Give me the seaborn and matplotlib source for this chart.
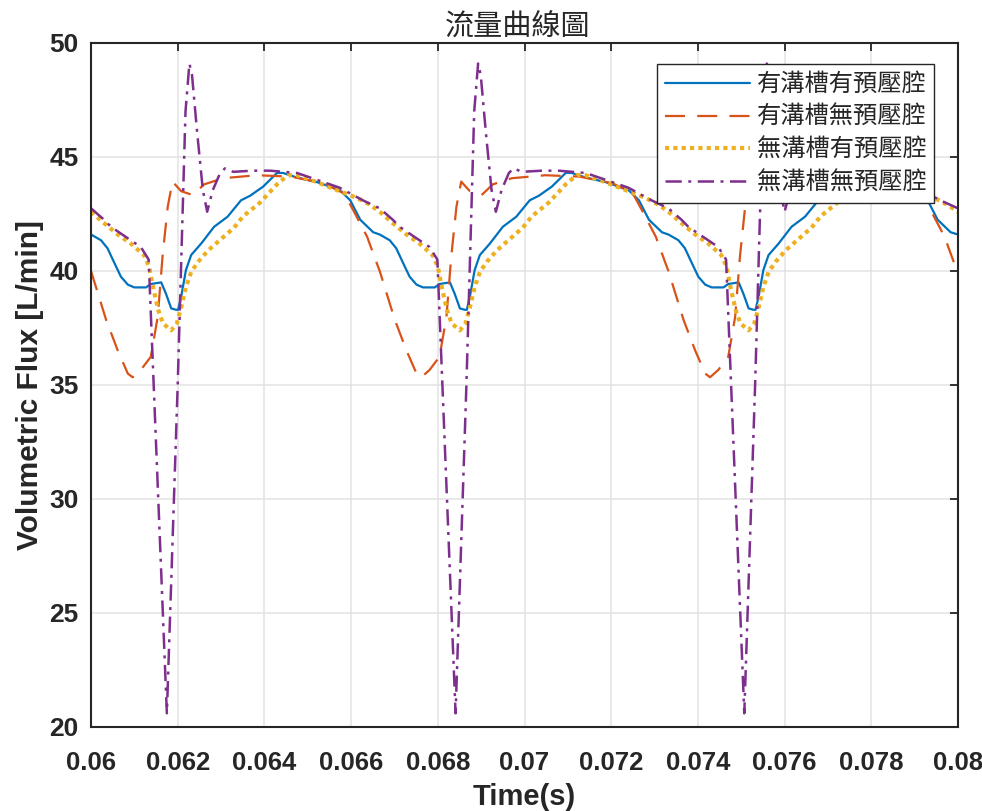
import numpy as np
import pandas as pd
import matplotlib
matplotlib.use("Agg")
import matplotlib.pyplot as plt
import seaborn as sns

# ---------------- data ----------------
series_names = ['有溝槽有預壓腔', '有溝槽無預壓腔', '無溝槽有預壓腔', '無溝槽無預壓腔']

t_blue = [0.06000, 0.06023, 0.06038, 0.06054, 0.06069, 0.06085, 0.06100, 0.06127, 0.06138, 0.06162,
          0.06173, 0.06185, 0.06196, 0.06201, 0.06208, 0.06219, 0.06231, 0.06254, 0.06284, 0.06315,
          0.06346, 0.06367, 0.06397, 0.06429, 0.06443, 0.06475, 0.06521, 0.06574, 0.06598, 0.06621, 0.06651,
          0.06666, 0.06689, 0.06704, 0.06720, 0.06735, 0.06751, 0.06766, 0.06793, 0.06804, 0.06828,
          0.06839, 0.06851, 0.06862, 0.06867, 0.06874, 0.06885, 0.06897, 0.06920, 0.06950, 0.06981,
          0.07012, 0.07033, 0.07063, 0.07095, 0.07109, 0.07141, 0.07187, 0.07240, 0.07264, 0.07287, 0.07317,
          0.07332, 0.07355, 0.07370, 0.07386, 0.07401, 0.07417, 0.07432, 0.07459, 0.07470, 0.07494,
          0.07505, 0.07517, 0.07528, 0.07533, 0.07540, 0.07551, 0.07563, 0.07586, 0.07616, 0.07647,
          0.07678, 0.07699, 0.07729, 0.07761, 0.07775, 0.07807, 0.07853, 0.07906, 0.07930, 0.07953, 0.07983,
          0.08000]
v_blue = [41.6, 41.35, 41.0, 40.35, 39.75, 39.4, 39.28, 39.28, 39.43, 39.5,
          39.0, 38.36, 38.3, 38.3, 38.87, 40.04, 40.7, 41.2, 41.94, 42.38,
          43.1, 43.3, 43.7, 44.3, 44.3, 44.1, 43.9, 43.55, 43.1, 42.25, 41.7,
          41.6, 41.35, 41.0, 40.35, 39.75, 39.4, 39.28, 39.28, 39.43, 39.5,
          39.0, 38.36, 38.3, 38.3, 38.87, 40.04, 40.7, 41.2, 41.94, 42.38,
          43.1, 43.3, 43.7, 44.3, 44.3, 44.1, 43.9, 43.55, 43.1, 42.25, 41.7,
          41.6, 41.35, 41.0, 40.35, 39.75, 39.4, 39.28, 39.28, 39.43, 39.5,
          39.0, 38.36, 38.3, 38.3, 38.87, 40.04, 40.7, 41.2, 41.94, 42.38,
          43.1, 43.3, 43.7, 44.3, 44.3, 44.1, 43.9, 43.55, 43.1, 42.25, 41.7,
          41.6]

t_orange = [0.06000, 0.06035, 0.06062, 0.06085, 0.06096, 0.06115, 0.06138, 0.06154, 0.06165, 0.06177,
            0.06188, 0.06208, 0.06235, 0.06261, 0.06305, 0.06382, 0.06461, 0.06537, 0.06584, 0.06604,
            0.06637, 0.06661,
            0.06666, 0.06701, 0.06728, 0.06751, 0.06762, 0.06781, 0.06804, 0.06820, 0.06831, 0.06843,
            0.06854, 0.06874, 0.06901, 0.06927, 0.06971, 0.07048, 0.07127, 0.07203, 0.07250, 0.07270,
            0.07303, 0.07327,
            0.07332, 0.07367, 0.07394, 0.07417, 0.07428, 0.07447, 0.07470, 0.07486, 0.07497, 0.07509,
            0.07520, 0.07540, 0.07567, 0.07593, 0.07637, 0.07714, 0.07793, 0.07869, 0.07916, 0.07936,
            0.07969, 0.07993,
            0.08000]
v_orange = [40.0, 37.85, 36.5, 35.5, 35.34, 35.66, 36.24, 38.0, 40.63, 42.82,
            43.92, 43.5, 43.33, 43.8, 44.07, 44.2, 44.14, 43.85, 43.4, 42.7,
            41.5, 40.25,
            40.0, 37.85, 36.5, 35.5, 35.34, 35.66, 36.24, 38.0, 40.63, 42.82,
            43.92, 43.5, 43.33, 43.8, 44.07, 44.2, 44.14, 43.85, 43.4, 42.7,
            41.5, 40.25,
            40.0, 37.85, 36.5, 35.5, 35.34, 35.66, 36.24, 38.0, 40.63, 42.82,
            43.92, 43.5, 43.33, 43.8, 44.07, 44.2, 44.14, 43.85, 43.4, 42.7,
            41.5, 40.25,
            40.0]

t_yellow = [0.06000, 0.06030, 0.06062, 0.06092, 0.06122, 0.06134, 0.06143, 0.06155, 0.06166, 0.06185,
            0.06198, 0.06208, 0.06219, 0.06231, 0.06247, 0.06270, 0.06300, 0.06330, 0.06351, 0.06390,
            0.06429, 0.06454, 0.06475, 0.06521, 0.06567, 0.06614, 0.06644,
            0.06666, 0.06696, 0.06728, 0.06758, 0.06788, 0.06800, 0.06809, 0.06821, 0.06832, 0.06851,
            0.06864, 0.06874, 0.06885, 0.06897, 0.06913, 0.06936, 0.06966, 0.06996, 0.07017, 0.07056,
            0.07095, 0.07120, 0.07141, 0.07187, 0.07233, 0.07280, 0.07310,
            0.07332, 0.07362, 0.07394, 0.07424, 0.07454, 0.07466, 0.07475, 0.07487, 0.07498, 0.07517,
            0.07530, 0.07540, 0.07551, 0.07563, 0.07579, 0.07602, 0.07632, 0.07662, 0.07683, 0.07722,
            0.07761, 0.07786, 0.07807, 0.07853, 0.07899, 0.07946, 0.07976,
            0.08000]
v_yellow = [42.6, 42.1, 41.6, 41.2, 40.7, 40.2, 39.3, 38.3, 37.7, 37.4,
            37.7, 38.4, 39.3, 39.95, 40.4, 40.9, 41.4, 41.9, 42.4, 43.0,
            43.8, 44.2, 44.2, 43.9, 43.55, 43.2, 42.9,
            42.6, 42.1, 41.6, 41.2, 40.7, 40.2, 39.3, 38.3, 37.7, 37.4,
            37.7, 38.4, 39.3, 39.95, 40.4, 40.9, 41.4, 41.9, 42.4, 43.0,
            43.8, 44.2, 44.2, 43.9, 43.55, 43.2, 42.9,
            42.6, 42.1, 41.6, 41.2, 40.7, 40.2, 39.3, 38.3, 37.7, 37.4,
            37.7, 38.4, 39.3, 39.95, 40.4, 40.9, 41.4, 41.9, 42.4, 43.0,
            43.8, 44.2, 44.2, 43.9, 43.55, 43.2, 42.9,
            42.6]

t_purple = [0.06000, 0.06030, 0.06046, 0.06076, 0.06115, 0.06133, 0.06175, 0.06200, 0.06212, 0.06218,
            0.06227, 0.06233, 0.06245, 0.06258, 0.06268, 0.06281, 0.06298, 0.06309, 0.06328, 0.06374,
            0.06413, 0.06475, 0.06521, 0.06574, 0.06627,
            0.06666, 0.06696, 0.06712, 0.06742, 0.06781, 0.06799, 0.06841, 0.06866, 0.06878, 0.06884,
            0.06893, 0.06899, 0.06911, 0.06924, 0.06934, 0.06947, 0.06964, 0.06975, 0.06994, 0.07040,
            0.07079, 0.07141, 0.07187, 0.07240, 0.07293,
            0.07332, 0.07362, 0.07378, 0.07408, 0.07447, 0.07465, 0.07507, 0.07532, 0.07544, 0.07550,
            0.07559, 0.07565, 0.07577, 0.07590, 0.07600, 0.07613, 0.07630, 0.07641, 0.07660, 0.07706,
            0.07745, 0.07807, 0.07853, 0.07906, 0.07959,
            0.08000]
v_purple = [42.75, 42.25, 41.94, 41.55, 41.05, 40.5, 20.6, 35.0, 43.0, 47.0,
            49.1, 48.6, 46.05, 43.55, 42.6, 43.55, 44.3, 44.5, 44.35, 44.4,
            44.4, 44.3, 44.0, 43.65, 43.1,
            42.75, 42.25, 41.94, 41.55, 41.05, 40.5, 20.6, 35.0, 43.0, 47.0,
            49.1, 48.6, 46.05, 43.55, 42.6, 43.55, 44.3, 44.5, 44.35, 44.4,
            44.4, 44.3, 44.0, 43.65, 43.1,
            42.75, 42.25, 41.94, 41.55, 41.05, 40.5, 20.6, 35.0, 43.0, 47.0,
            49.1, 48.6, 46.05, 43.55, 42.6, 43.55, 44.3, 44.5, 44.35, 44.4,
            44.4, 44.3, 44.0, 43.65, 43.1,
            42.75]

x_ticks = [0.06, 0.062, 0.064, 0.066, 0.068, 0.07, 0.072, 0.074, 0.076, 0.078, 0.08]
x_tick_labels = ['0.06', '0.062', '0.064', '0.066', '0.068', '0.07', '0.072', '0.074', '0.076', '0.078', '0.08']
y_ticks = [20, 25, 30, 35, 40, 45, 50]
y_tick_labels = ['20', '25', '30', '35', '40', '45', '50']

# ---------------- styling ----------------
sns.set_theme(style="whitegrid")
plt.rcParams['font.family'] = ['Liberation Sans', 'Noto Sans CJK TC', 'DejaVu Sans']
plt.rcParams['axes.unicode_minus'] = False

colors = ['#0072BD', '#D95319', '#EDB120', '#7E2F8E']
widths = [1.6, 1.6, 3.0, 1.8]
linestyles = ['-', (0, (9, 5.5)), (0, (1.0, 1.0)), (0, (6.5, 2.6, 1.2, 2.6))]
dark = '#262626'

df = pd.concat([
    pd.DataFrame({'t': t_blue, 'flux': v_blue, 'series': series_names[0]}),
    pd.DataFrame({'t': t_orange, 'flux': v_orange, 'series': series_names[1]}),
    pd.DataFrame({'t': t_yellow, 'flux': v_yellow, 'series': series_names[2]}),
    pd.DataFrame({'t': t_purple, 'flux': v_purple, 'series': series_names[3]}),
], ignore_index=True)

fig = plt.figure(figsize=(9.82, 8.11), dpi=100)
fig.patch.set_facecolor('white')
ax = fig.add_axes([91 / 982, 1 - 727 / 811, 867 / 982, 684 / 811])
ax.set_facecolor('white')

for name, c, lw, ls in zip(series_names, colors, widths, linestyles):
    sub = df[df['series'] == name]
    sns.lineplot(data=sub, x='t', y='flux', ax=ax, color=c, linewidth=lw, linestyle=ls,
                 estimator=None, sort=False, label=name)

ax.set_xlim(0.06, 0.08)
ax.set_ylim(20, 50)
ax.set_xticks(x_ticks)
ax.set_xticklabels(x_tick_labels)
ax.set_yticks(y_ticks)
ax.set_yticklabels(y_tick_labels)

ax.grid(True, color='#e3e3e3', linewidth=1.1)
ax.set_axisbelow(True)
for s in ax.spines.values():
    s.set_visible(True)
    s.set_color(dark)
    s.set_linewidth(1.5)

ax.tick_params(axis='both', direction='in', length=6, width=1.3, colors=dark,
               top=True, right=True)
ax.tick_params(axis='x', pad=17, labelsize=18.5)
ax.tick_params(axis='y', pad=9, labelsize=19)
for lab in ax.get_xticklabels() + ax.get_yticklabels():
    lab.set_fontweight('bold')

ax.set_xlabel('Time(s)', fontsize=21, fontweight='bold', color=dark, labelpad=6)
ax.set_ylabel('Volumetric Flux [L/min]', fontsize=21.5, fontweight='bold', color=dark, labelpad=4)
ax.set_title('流量曲線圖', fontsize=21, color=dark, pad=6, x=(518 - 91) / 867,
             fontfamily=['Noto Sans CJK TC', 'DejaVu Sans'], fontweight='light')

handles, labels = ax.get_legend_handles_labels()
leg = ax.legend(handles, labels, loc='upper right',
                bbox_to_anchor=((934 - 91) / 867, (727 - 64) / 684),
                prop={'family': ['Noto Sans CJK TC', 'DejaVu Sans'], 'size': 17.5, 'weight': 'light'},
                frameon=True, fancybox=False, framealpha=1, edgecolor=dark,
                handlelength=3.5, handletextpad=0.3, labelspacing=0.28, borderpad=0.3,
                borderaxespad=0)
leg.get_frame().set_linewidth(1.0)
for txt in leg.get_texts():
    txt.set_color(dark)

fig.savefig('out.png', dpi=100, facecolor='white')
